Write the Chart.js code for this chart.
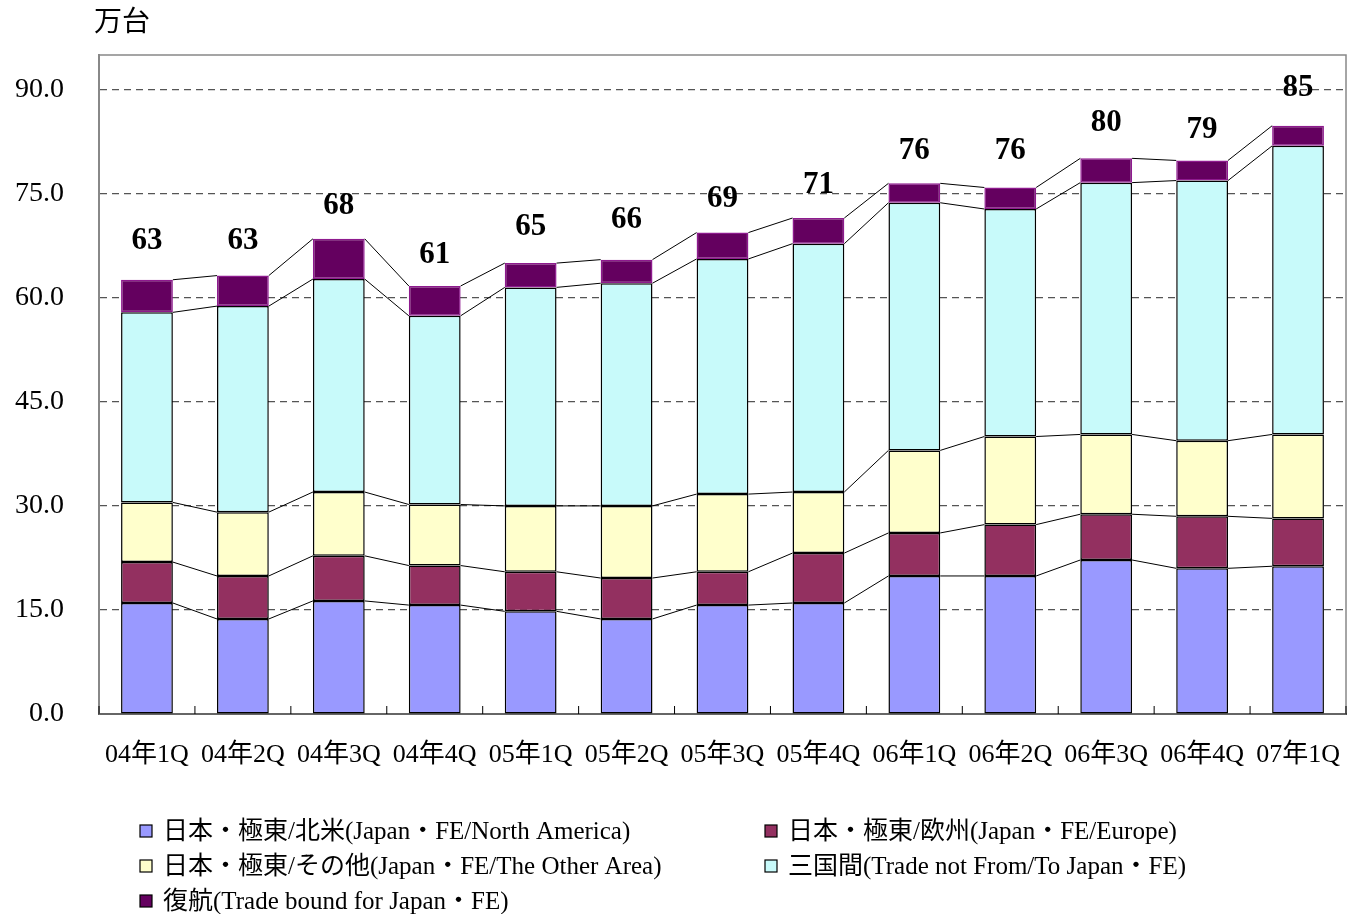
<!DOCTYPE html>
<html>
<head>
<meta charset="utf-8">
<script src="https://cdn.jsdelivr.net/npm/chart.js@4"></script>
<style>
  body { margin: 0; background: #fff; }
  #wrap { width: 1350px; height: 914px; position: relative; }
</style>
</head>
<body>
<div id="wrap"><canvas id="mainChart"></canvas></div>
<script>
const categories = ['04年1Q', '04年2Q', '04年3Q', '04年4Q', '05年1Q', '05年2Q', '05年3Q', '05年4Q', '06年1Q', '06年2Q', '06年3Q', '06年4Q', '07年1Q'];

const northAmerica = [16.0, 13.7, 16.3, 15.7, 14.8, 13.7, 15.7, 16.0, 19.9, 19.9, 22.2, 21.0, 21.3];
const europe = [5.9, 6.2, 6.5, 5.7, 5.7, 5.9, 4.8, 7.2, 6.2, 7.4, 6.6, 7.5, 6.9];
const otherArea = [8.6, 9.2, 9.2, 8.8, 9.5, 10.4, 11.2, 8.8, 11.9, 12.7, 11.5, 10.9, 12.1];
const crossTrade = [27.4, 29.7, 30.7, 27.2, 31.5, 32.1, 33.9, 35.8, 35.7, 32.8, 36.3, 37.5, 41.6];
const returnTrip = [4.7, 4.4, 5.8, 4.3, 3.5, 3.4, 3.8, 3.7, 2.8, 3.1, 3.5, 2.9, 2.9];

const totals = [63, 63, 68, 61, 65, 66, 69, 71, 76, 76, 80, 79, 85];

const seriesNames = [
  '日本・極東/北米(Japan・FE/North America)',
  '日本・極東/欧州(Japan・FE/Europe)',
  '日本・極東/その他(Japan・FE/The Other Area)',
  '三国間(Trade not From/To Japan・FE)',
  '復航(Trade bound for Japan・FE)'
];

const serif = '"Liberation Serif", "Noto Sans CJK JP", serif';

// series lines between the stacked segments, like excel does
const seriesLines = {
  id: 'seriesLines',
  afterDatasetsDraw(chart) {
    const ctx = chart.ctx;
    ctx.save();
    ctx.strokeStyle = '#000';
    ctx.lineWidth = 1;
    chart.data.datasets.forEach((ds, di) => {
      const bars = chart.getDatasetMeta(di).data;
      for (let i = 0; i < bars.length - 1; i++) {
        const a = bars[i], b = bars[i + 1];
        ctx.beginPath();
        ctx.moveTo(a.x + a.width / 2, a.y);
        ctx.lineTo(b.x - b.width / 2, b.y);
        ctx.stroke();
      }
    });

    // small inside ticks on the category axis
    const xs = chart.scales.x;
    const step = xs.width / categories.length;
    for (let i = 0; i <= categories.length; i++) {
      const x = xs.left + i * step;
      ctx.beginPath();
      ctx.moveTo(x, xs.top);
      ctx.lineTo(x, xs.top - 8);
      ctx.stroke();
    }
    ctx.restore();
  }
};

const totalLabels = {
  id: 'totalLabels',
  afterDraw(chart) {
    const ctx = chart.ctx;
    const ys = chart.scales.y;
    const bars = chart.getDatasetMeta(0).data;
    ctx.save();
    ctx.font = 'bold 31px ' + serif;
    ctx.fillStyle = '#000';
    ctx.textAlign = 'center';
    ctx.textBaseline = 'middle';
    totals.forEach((t, i) => {
      ctx.fillText(String(t), bars[i].x, ys.getPixelForValue(t + 5.2));
    });

    // unit
    ctx.font = '28px "Noto Sans CJK JP", serif';
    ctx.textAlign = 'left';
    ctx.fillText('万台', 94, 20);

    // legend
    ctx.font = '25px ' + serif;
    chart.data.datasets.forEach((ds, i) => {
      const col = i % 2, row = Math.floor(i / 2);
      const bx = col === 0 ? 140 : 765;
      const cy = 831 + row * 35;
      ctx.fillStyle = ds.backgroundColor;
      ctx.fillRect(bx, cy - 6, 12, 12);
      ctx.strokeStyle = '#000';
      ctx.lineWidth = 1.2;
      ctx.strokeRect(bx, cy - 6, 12, 12);
      ctx.fillStyle = '#000';
      ctx.fillText(ds.label, bx + 23, cy + 1);
    });
    ctx.restore();
  }
};

const frame = {
  id: 'frame',
  beforeDatasetsDraw(chart) {
    const a = chart.chartArea;
    const ctx = chart.ctx;
    ctx.save();
    ctx.strokeStyle = '#888';
    ctx.lineWidth = 1.5;
    ctx.strokeRect(a.left, a.top, a.right - a.left, a.bottom - a.top);
    ctx.restore();
  }
};

function makeSet(label, data, fill, border) {
  return {
    label: label,
    data: data,
    backgroundColor: fill,
    borderColor: border,
    borderWidth: 1.5,
    borderSkipped: false,
    categoryPercentage: 1.0,
    barPercentage: 0.54
  };
}

const ctx = document.getElementById('mainChart').getContext('2d');
const chart = new Chart(ctx, {
  type: 'bar',
  data: {
    labels: categories,
    datasets: [
      makeSet(seriesNames[0], northAmerica, '#9999FF', '#000'),
      makeSet(seriesNames[1], europe, '#933060', '#000'),
      makeSet(seriesNames[2], otherArea, '#FFFFCC', '#000'),
      makeSet(seriesNames[3], crossTrade, '#C8FAFA', '#000'),
      makeSet(seriesNames[4], returnTrip, '#64005F', '#8E1A8E')
    ]
  },
  options: {
    responsive: true,
    maintainAspectRatio: false,
    animation: false,
    layout: { padding: { top: 55, left: 0, right: 4, bottom: 140 } },
    plugins: {
      legend: { display: false },
      tooltip: { enabled: false }
    },
    scales: {
      x: {
        stacked: true,
        grid: { display: false },
        border: { color: '#000', width: 2 },
        ticks: { font: { family: serif, size: 26 }, color: '#000', padding: 18, maxRotation: 0 },
        afterFit(scale) {
          scale.height = 60;
          scale.paddingLeft = 0;
          scale.paddingRight = 0;
        }
      },
      y: {
        stacked: true,
        min: 0,
        max: 95,
        afterBuildTicks(scale) {
          scale.ticks = scale.ticks.filter(t => t.value % 15 === 0);
        },
        ticks: {
          stepSize: 15,
          font: { family: serif, size: 28 },
          color: '#000',
          padding: 35,
          callback: v => v.toFixed(1)
        },
        grid: {
          drawTicks: false,
          color: c => (c.tick && c.tick.value === 0) ? 'rgba(0,0,0,0)' : '#555',
          lineWidth: 1.2
        },
        border: { color: '#888', width: 2, dash: [7, 5] },
        afterFit(scale) { scale.width = 99; }
      }
    }
  },
  plugins: [frame, seriesLines, totalLabels]
});
</script>
</body>
</html>
